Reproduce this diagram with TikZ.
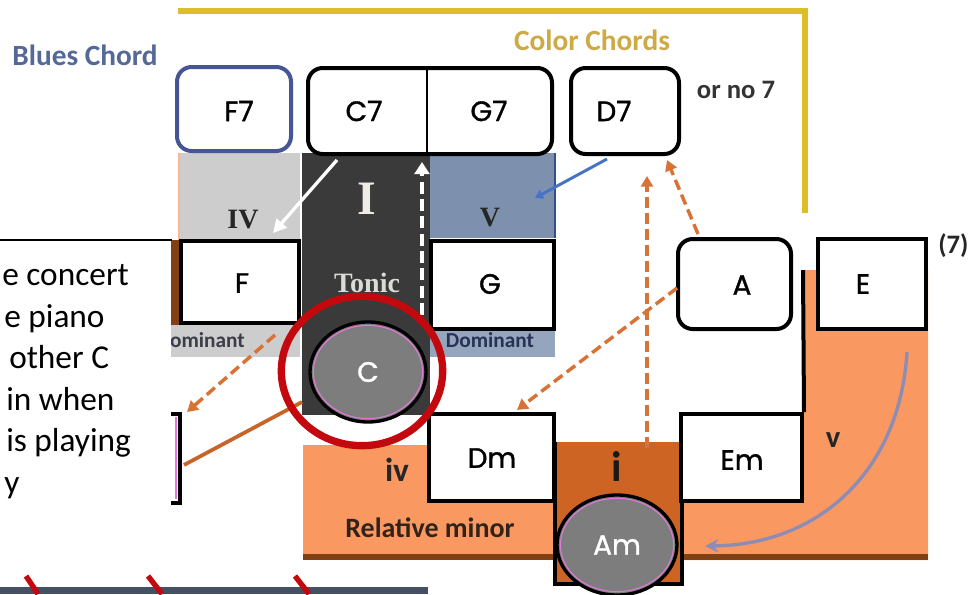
\documentclass[tikz,border=0pt]{standalone}
\usepackage{fontspec}
\setmainfont{Liberation Serif}
\newfontfamily\calib{Carlito}
\newfontfamily\geo[FakeBold=1.2]{Poppins}
\usetikzlibrary{arrows.meta,fit,shapes.geometric}
\definecolor{yel}{RGB}{222,190,40}
\definecolor{bluesc}{RGB}{85,105,150}
\definecolor{colorc}{RGB}{205,170,70}
\definecolor{fblue}{RGB}{70,85,150}
\definecolor{lgray}{RGB}{205,205,205}
\definecolor{dgray}{RGB}{58,58,58}
\definecolor{vblue}{RGB}{125,145,175}
\definecolor{domblue}{RGB}{150,165,190}
\definecolor{peach}{RGB}{250,152,98}
\definecolor{rust}{RGB}{205,100,35}
\definecolor{brownc}{RGB}{130,65,20}
\definecolor{ellgray}{RGB}{125,125,125}
\definecolor{redring}{RGB}{195,8,14}
\definecolor{oarrow}{RGB}{215,115,55}
\definecolor{osolid}{RGB}{200,100,40}
\definecolor{barrow}{RGB}{70,115,195}
\definecolor{garrow}{RGB}{140,140,180}
\definecolor{barc}{RGB}{70,80,100}
\definecolor{pinkc}{RGB}{225,120,215}
\newcommand\chordf{\geo\fontsize{21}{24}\selectfont}
\newcommand\serifb{\bfseries\fontsize{21}{24}\selectfont}
\tikzset{
  regionbox/.style={inner sep=0pt, outer sep=0pt, draw=none},
  chordbox/.style={draw=black, line width=3pt, fill=white, inner sep=0pt},
  roundbox/.style={chordbox, rounded corners=11pt},
  chordtxt/.style={font=\chordf, inner sep=0pt},
  ovalnode/.style={ellipse, draw=black, line width=2.5pt, fill=ellgray, inner sep=0pt},
  ovalpink/.style={ellipse, draw=pinkc, line width=0.8pt, inner sep=0pt},
  oarr/.style={draw=oarrow, line width=2.6pt, dash pattern=on 8pt off 4pt, -{Triangle[length=8pt,width=9pt]}},
  para/.style={font=\calib\fontsize{25}{30}\selectfont, inner sep=0pt, anchor=base west},
}
\begin{document}
\begin{tikzpicture}[x=0.75pt,y=-0.75pt]
\clip (0,0) rectangle (968,594);
\fill[white] (0,0) rectangle (968,594);

% yellow bracket
\draw[yel, line width=4.5pt] (178,11) -- (805,11) -- (805,213);

% headings
\node[font=\calib\bfseries\fontsize{22}{26}\selectfont, text=bluesc, inner sep=0pt] (blues) at (85,55) {Blues Chord};
\node[font=\calib\bfseries\fontsize{22}{26}\selectfont, text=colorc, inner sep=0pt] (colorch) at (592,40) {Color Chords};
\node[font=\calib\bfseries\fontsize{20}{24}\selectfont, text=black!80, inner sep=0pt] (nosev) at (736,90) {or no 7};
\node[font=\calib\bfseries\fontsize{20}{24}\selectfont, text=black!85, inner sep=0pt, anchor=west] (sev) at (938,246) {(7)};

% background regions
\node[regionbox, fill=lgray, fit={(178,153) (300,240)}] (ivreg) {};
\draw[peach!70, line width=1.8pt] (179,153) -- (179,240);
\node[regionbox, fill=dgray, fit={(302,153) (430,415)}] (tonreg) {};
\node[regionbox, fill=vblue, fit={(430,153) (555,238)}] (vreg) {};
\draw[barrow!70!black, line width=1.5pt] (vreg.north east) -- (vreg.south east);
\node[regionbox, fill=lgray, fit={(170,325) (300,357)}] (sdreg) {};
\node[regionbox, fill=domblue, fit={(430,328) (555,357)}] (dreg) {};
\fill[brownc] (170,240) rectangle (180,325);

\node[regionbox, fill=peach, fit={(303,445) (555,560)}] (rmreg) {};
\fill[brownc] (303,554) rectangle (555,560);
\fill[peach] (803,270) -- (928,270) -- (928,560) -- (682,560) -- (682,500) -- (803,500) -- cycle;
\fill[brownc] (682,554) rectangle (928,560);
\node[regionbox, fill=rust, fit={(555,442) (682,584)}] (icol) {};
\draw[black, line width=3pt] (icol.north west) -- (icol.south west) -- (icol.south east) -- (icol.north east);

% chord boxes
\node[roundbox, draw=fblue, fit={(177,67) (291,151)}] (f7) {};
\node[roundbox, fit={(308,68) (552,154)}] (c7g7) {};
\draw[line width=1pt] (427,68) -- (427,154);
\node[roundbox, fit={(571,68) (679,154)}] (d7) {};
\node[chordbox, fit={(181,241) (299,323)}] (fbox) {};
\node[chordbox, fit={(431,241) (554,329)}] (gbox) {};
\node[chordbox, fit={(429,414) (554,501)}] (dm) {};
\node[chordbox, fit={(681,414) (802,501)}] (em) {};
\node[chordbox, fit={(818,239) (926,329)}] (ebox) {};
\node[roundbox, fit={(678,239) (791,329)}] (abox) {};
\draw[line width=3pt] (803,270) -- (em.north east);

% chord texts
\node[chordtxt] (f7t) at (239,111) {F7};
\node[chordtxt] (c7t) at (364,111) {C7};
\node[chordtxt] (g7t) at (489,111) {G7};
\node[chordtxt] (d7t) at (614,111) {D7};
\node[chordtxt] (ft) at (242,283) {F};
\node[chordtxt] (gt) at (490,284) {G};
\node[chordtxt] (dmt) at (492,458) {Dm};
\node[chordtxt] (emt) at (742,460) {Em};
\node[chordtxt] (et) at (863,284) {E};
\node[chordtxt] (at) at (742,285) {A};

% roman numerals
\node[font=\serifb, text=black!85, inner sep=0pt] (ivt) at (243,220) {IV};
\node[font=\serifb, text=black!85, inner sep=0pt] (vt) at (490,218) {V};
\node[font=\bfseries\fontsize{36}{38}\selectfont, text={rgb,255:red,238;green,236;blue,228}, inner sep=0pt] (it) at (367,199) {I};
\node[font=\serifb, text={rgb,255:red,218;green,218;blue,214}, inner sep=0pt] (tonict) at (367,283) {Tonic};
\node[font=\calib\bfseries\fontsize{16}{18}\selectfont, text={rgb,255:red,60;green,60;blue,75}, inner sep=0pt, anchor=east] (sdt) at (245,340) {ominant};
\node[font=\calib\bfseries\fontsize{16}{18}\selectfont, text={rgb,255:red,40;green,50;blue,85}, inner sep=0pt] (dt) at (490,340) {Dominant};
\node[font=\calib\bfseries\fontsize{25}{28}\selectfont, text=black!85, inner sep=0pt] (ivm) at (397,470) {iv};
\node[font=\calib\bfseries\fontsize{32}{34}\selectfont, text=black!90, inner sep=0pt] (im) at (617,467) {i};
\node[font=\calib\bfseries\fontsize{23}{26}\selectfont, text=black!85, inner sep=0pt] (vm) at (833,440) {v};
\node[font=\calib\bfseries\fontsize{21}{24}\selectfont, text={rgb,255:red,50;green,35;blue,25}, inner sep=0pt] (relmin) at (430,528) {Relative minor};

% arrows (before ovals)
\coordinate (wa1) at (337,160);
\coordinate (wa2) at (273,233);
\draw[white, line width=2.5pt, -{Triangle[length=10pt,width=10pt]}] (wa1) -- (wa2);
\coordinate (wd1) at (422,315);
\coordinate (wd2) at (422,162);
\draw[white, line width=3.5pt, dash pattern=on 9pt off 4pt, -{Triangle[length=9pt,width=11pt]}] (wd1) -- (wd2);
\coordinate (ba1) at (607,159);
\coordinate (ba2) at (535,198);
\draw[barrow, line width=2.2pt, -{Triangle[length=6pt,width=7pt]}] (ba1) -- (ba2);
\coordinate (oa1) at (698,234);
\coordinate (oa2) at (667,160);
\draw[oarr] (oa1) -- (oa2);
\coordinate (ov1) at (647,448);
\coordinate (ov2) at (647,176);
\draw[oarr] (ov1) -- (ov2);
\coordinate (oa3) at (677,288);
\coordinate (oa4) at (517,410);
\draw[oarr] (oa3) -- (oa4);
\coordinate (of1) at (275,335);
\coordinate (of2) at (187,412);
\draw[oarr] (of1) -- (of2);
\coordinate (os1) at (302,402);
\coordinate (os2) at (184,465);
\draw[osolid, line width=2.8pt] (os1) -- (os2);
\coordinate (ga1) at (907,352);
\coordinate (ga2) at (705,546);
\draw[garrow, line width=2.5pt, -{Stealth[length=10pt,width=10pt]}] (ga1) .. controls (900,470) and (820,545) .. (ga2);

% ovals
\node[ovalnode, minimum width=87pt, minimum height=75pt] (cnode) at (368,372) {};
\node[ovalpink, minimum width=82pt, minimum height=70pt] (cpink) at (368,372) {};
\node[chordtxt, text=white] (ct) at (368,372) {C};
\node[ovalnode, minimum width=90pt, minimum height=75pt] (amnode) at (617,545) {};
\node[ovalpink, minimum width=85pt, minimum height=70pt] (ampink) at (617,545) {};
\node[chordtxt, text=white] (amt) at (617,545) {Am};

% red ring
\node[ellipse, draw=redring, line width=5.5pt, minimum width=121pt, minimum height=112pt, inner sep=0pt] (ring) at (362,371) {};

% overlaid text box
\node[chordbox, fit={(100,414) (180,503)}] (hidbox) {};
\draw[pinkc, line width=0.8pt] (176,417) -- (176,499);
\fill[white] (0,241) rectangle (171,512);
\draw[line width=1pt] (0,240) -- (172,240);
\node[para] (t1) at (2,285) {e concert};
\node[para] (t2) at (4,327) {e piano};
\node[para] (t3) at (9,368) {other C};
\node[para] (t4) at (6,410) {in when};
\node[para] (t5) at (6,451) {is playing};
\node[para] (t6) at (4,493) {y};

% bottom bar with red marks
\fill[barc] (0,587) rectangle (428,594);
\draw[redring, line width=4pt] (26,576) -- (38,594);
\draw[redring, line width=4pt] (148,576) -- (162,594);
\draw[redring, line width=4pt] (295,576) -- (309,594);
\end{tikzpicture}
\end{document}
